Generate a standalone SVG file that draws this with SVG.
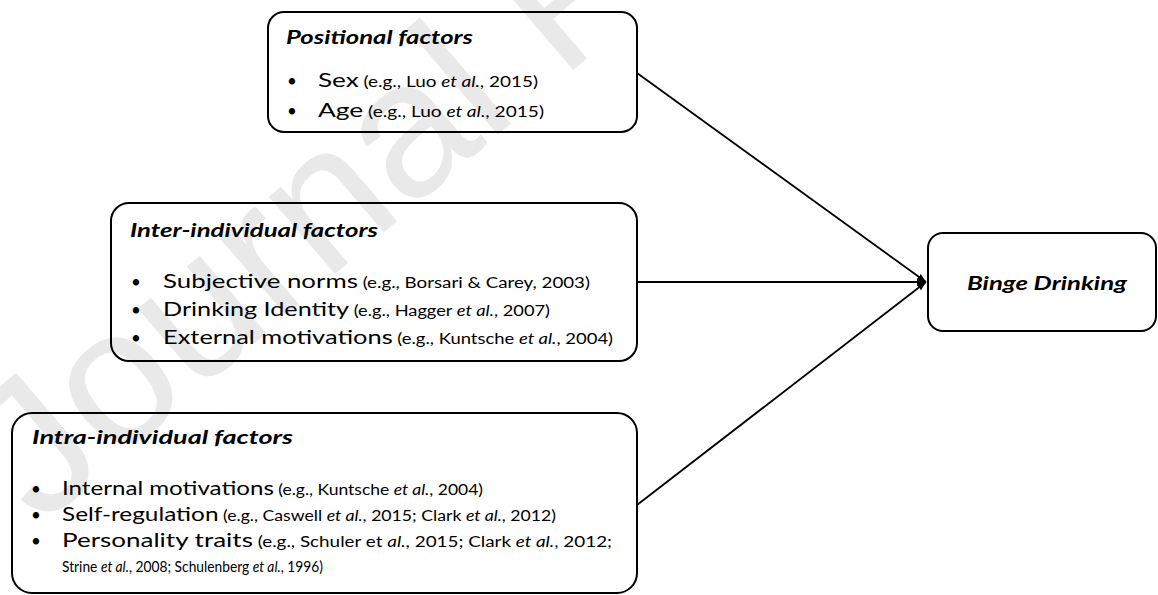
<svg xmlns="http://www.w3.org/2000/svg" width="1158" height="595" viewBox="0 0 1158 595">
  <style>
    .box { fill: none; stroke: #000; stroke-width: 2; }
    .conn { fill: none; stroke: #000; stroke-width: 1.8; }
    text { font-family: Lato, "Liberation Sans", sans-serif; fill: #000; }
    .title { font-size: 19px; font-weight: bold; font-style: italic; }
    .m { font-size: 20px; }
    .c { font-size: 14.5px; }
    .i { font-style: italic; }
    .bul { font-size: 17px; }
    .wm { font-family: "Liberation Sans", Arial, sans-serif; font-size: 193px; fill: #e9e9e9; }
  </style>
  <defs>
    <marker id="arr" markerUnits="userSpaceOnUse" markerWidth="10" markerHeight="10" refX="9" refY="5" orient="auto">
      <path d="M0,1.5 L9,5 L0,8.5 Z" fill="#000"/>
    </marker>
  </defs>
  <rect width="1158" height="595" fill="#fff"/>
  <text class="wm" x="40" y="527" transform="rotate(-40.6 40 527)">Journal Pre-proof</text>

  <g id="connectors">
    <path class="conn" d="M637,73 L926,282" marker-end="url(#arr)"/>
    <path class="conn" d="M637,282 L926,282" marker-end="url(#arr)"/>
    <path class="conn" d="M637,505 L926,282" marker-end="url(#arr)"/>
  </g>

  <g id="positional">
    <rect class="box" x="268" y="12" width="369" height="120" rx="16"/>
    <text class="title" x="286" y="44" textLength="187" lengthAdjust="spacingAndGlyphs">Positional factors</text>
    <text class="bul" x="287" y="87">•</text>
    <text x="318" y="87" textLength="220" lengthAdjust="spacingAndGlyphs"><tspan class="m">Sex</tspan><tspan class="c"> (e.g., Luo <tspan class="i">et al.</tspan>, 2015)</tspan></text>
    <text class="bul" x="287" y="117">•</text>
    <text x="318" y="117" textLength="226" lengthAdjust="spacingAndGlyphs"><tspan class="m">Age</tspan><tspan class="c"> (e.g., Luo <tspan class="i">et al.</tspan>, 2015)</tspan></text>
  </g>

  <g id="inter">
    <rect class="box" x="111" y="203" width="526" height="158" rx="18"/>
    <text class="title" x="130" y="237" textLength="248" lengthAdjust="spacingAndGlyphs">Inter-individual factors</text>
    <text class="bul" x="131" y="288">•</text>
    <text x="163" y="288" textLength="427" lengthAdjust="spacingAndGlyphs"><tspan class="m">Subjective norms</tspan><tspan class="c"> (e.g., Borsari &amp; Carey, 2003)</tspan></text>
    <text class="bul" x="131" y="316">•</text>
    <text x="163" y="316" textLength="387" lengthAdjust="spacingAndGlyphs"><tspan class="m">Drinking Identity</tspan><tspan class="c"> (e.g., Hagger <tspan class="i">et al.</tspan>, 2007)</tspan></text>
    <text class="bul" x="131" y="344">•</text>
    <text x="163" y="344" textLength="450" lengthAdjust="spacingAndGlyphs"><tspan class="m">External motivations</tspan><tspan class="c"> (e.g., Kuntsche <tspan class="i">et al.</tspan>, 2004)</tspan></text>
  </g>

  <g id="intra">
    <rect class="box" x="12" y="413" width="625" height="180" rx="20"/>
    <text class="title" x="32" y="444" textLength="261" lengthAdjust="spacingAndGlyphs">Intra-individual factors</text>
    <text class="bul" x="31" y="495">•</text>
    <text x="62" y="495" textLength="421" lengthAdjust="spacingAndGlyphs"><tspan class="m">Internal motivations</tspan><tspan class="c"> (e.g., Kuntsche <tspan class="i">et al.</tspan>, 2004)</tspan></text>
    <text class="bul" x="31" y="521">•</text>
    <text x="62" y="521" textLength="494" lengthAdjust="spacingAndGlyphs"><tspan class="m">Self-regulation</tspan><tspan class="c"> (e.g., Caswell <tspan class="i">et al.</tspan>, 2015; Clark <tspan class="i">et al.</tspan>, 2012)</tspan></text>
    <text class="bul" x="31" y="547">•</text>
    <text x="62" y="547" textLength="550" lengthAdjust="spacingAndGlyphs"><tspan class="m">Personality traits</tspan><tspan class="c"> (e.g., Schuler et <tspan class="i">al.</tspan>, 2015; Clark <tspan class="i">et al.</tspan>, 2012;</tspan></text>
    <text class="c" x="62" y="572" textLength="261" lengthAdjust="spacingAndGlyphs">Strine <tspan class="i">et al.</tspan>, 2008; Schulenberg <tspan class="i">et al.</tspan>, 1996)</text>
  </g>

  <g id="binge">
    <rect class="box" x="928" y="233" width="228" height="98" rx="15"/>
    <text class="title" x="967" y="290" textLength="160" lengthAdjust="spacingAndGlyphs">Binge Drinking</text>
  </g>
</svg>
